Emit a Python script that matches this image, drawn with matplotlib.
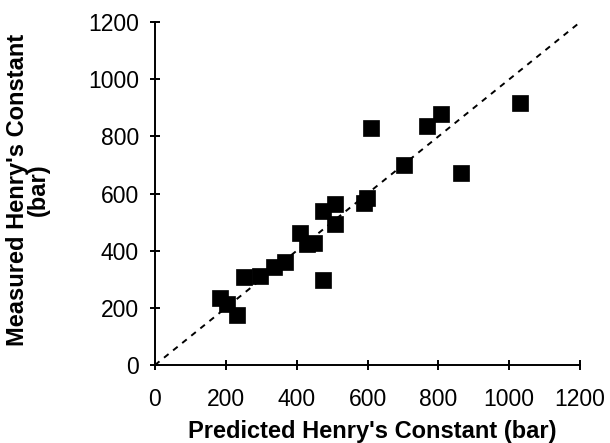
import numpy as np
import matplotlib.pyplot as plt

plt.rcParams['font.family'] = ['Liberation Sans', 'DejaVu Sans']

# predicted vs measured Henry's constant (bar)
predicted = [183, 204, 231, 252, 296, 336, 367, 473, 409, 428, 450, 475, 508, 508,
             590, 598, 609, 702, 769, 808, 863, 1029]
measured = [233, 213, 175, 309, 311, 344, 359, 297, 461, 423, 428, 540, 562, 493,
            568, 583, 828, 700, 837, 880, 671, 918]
ticks = [0, 200, 400, 600, 800, 1000, 1200]

fig = plt.figure(figsize=(6.1, 4.43), dpi=100)
ax = fig.add_axes([0.254, 0.176, 0.697, 0.774])

ax.plot([0, 1200], [0, 1200], color='black', linestyle=(0, (3, 3)), linewidth=1.4)
ax.plot(predicted, measured, 's', color='black', markersize=11, markeredgewidth=0.5,
        clip_on=False)

ax.set_xlim(0, 1200)
ax.set_ylim(0, 1200)
ax.set_xticks(ticks)
ax.set_yticks(ticks)
ax.tick_params(direction='inout', length=7, width=1.4, labelsize=16.5)
ax.tick_params(axis='x', pad=13)
ax.tick_params(axis='y', pad=8)
for s in ['top', 'right']:
    ax.spines[s].set_visible(False)
for s in ['left', 'bottom']:
    ax.spines[s].set_linewidth(1.4)

ax.set_xlabel("Predicted Henry's Constant (bar)", fontsize=17, fontweight='bold', va='top')
ax.set_ylabel("Measured Henry's Constant\n(bar)", fontsize=17, fontweight='bold',
              linespacing=0.9)
ax.xaxis.set_label_coords(0.51, -0.16)
ax.yaxis.set_label_coords(-0.247, 0.51)

fig.savefig('out.png', dpi=100)
